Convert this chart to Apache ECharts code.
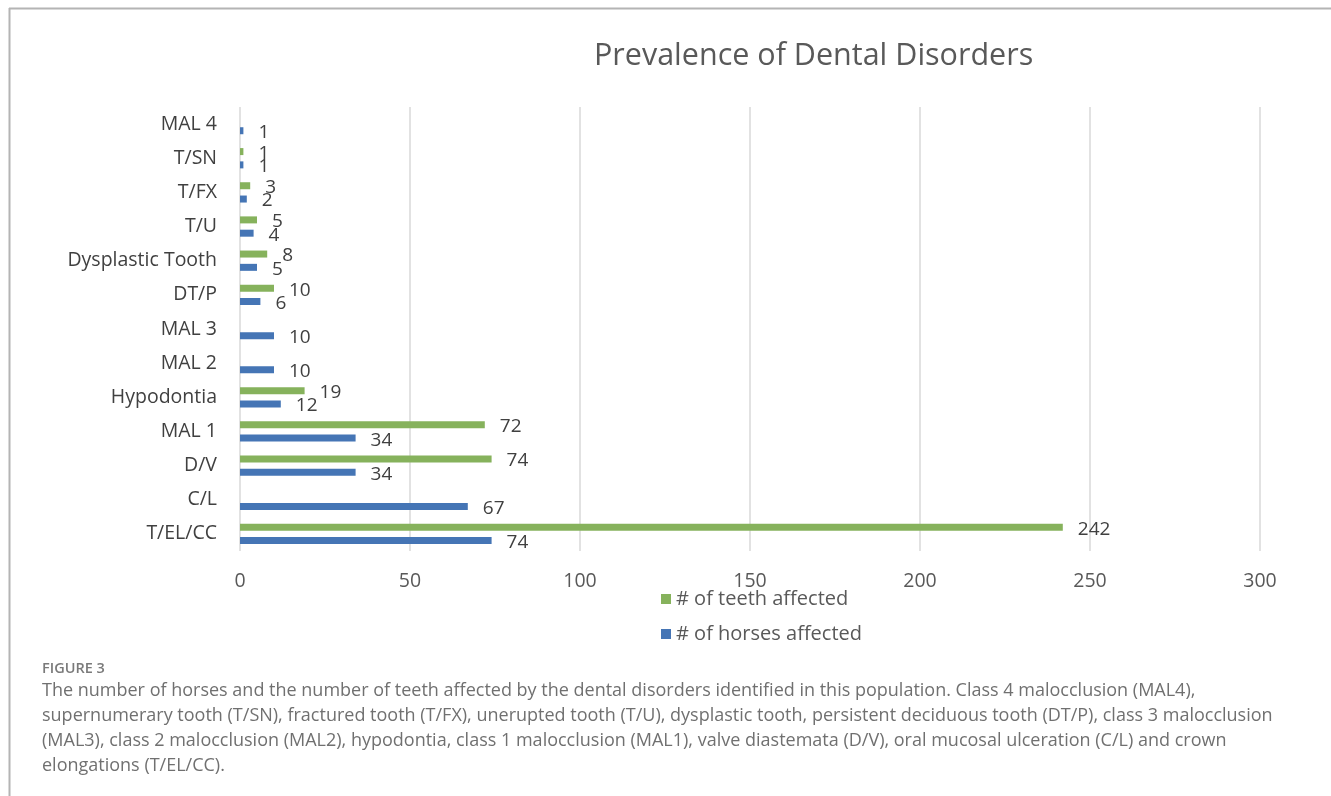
<!DOCTYPE html>
<html>
<head>
<meta charset="utf-8">
<title>Prevalence of Dental Disorders</title>
<script src="https://cdn.jsdelivr.net/npm/echarts@6/dist/echarts.min.js"></script>
<style>
  html, body { margin: 0; padding: 0; background: #ffffff; }
  #chart { width: 1331px; height: 796px; }
</style>
</head>
<body>
<div id="chart"></div>
<script>
// Disorder codes, listed bottom-to-top along the category axis
const categories = ['T/EL/CC', 'C/L', 'D/V', 'MAL 1', 'Hypodontia', 'MAL 2', 'MAL 3',
  'DT/P', 'Dysplastic Tooth', 'T/U', 'T/FX', 'T/SN', 'MAL 4'];
// Number of horses affected per disorder
const horsesAffected = [74, 67, 34, 34, 12, 10, 10, 6, 5, 4, 2, 1, 1];
// Number of teeth affected per disorder (no value where not recorded)
const teethAffected = [242, null, 74, 72, 19, null, null, 10, 8, 5, 3, 1, null];
// Value axis ticks
const xTicks = [0, 50, 100, 150, 200, 250, 300];

const seriesNames = ['# of teeth affected', '# of horses affected'];
const captionHead = 'FIGURE 3';
const captionLines = [
  'The number of horses and the number of teeth affected by the dental disorders identified in this population. Class 4 malocclusion (MAL4),',
  'supernumerary tooth (T/SN), fractured tooth (T/FX), unerupted tooth (T/U), dysplastic tooth, persistent deciduous tooth (DT/P), class 3 malocclusion',
  '(MAL3), class 2 malocclusion (MAL2), hypodontia, class 1 malocclusion (MAL1), valve diastemata (D/V), oral mucosal ulceration (C/L) and crown',
  'elongations (T/EL/CC).'
];

const FONT = '"Open Sans", sans-serif';
const chart = echarts.init(document.getElementById('chart'), null, { renderer: 'canvas' });

const labelStyle = {
  show: true,
  position: 'right',
  distance: 15,
  offset: [0, 2],
  color: '#404040',
  fontSize: 19,
  fontFamily: FONT
};

chart.setOption({
  animation: false,
  backgroundColor: '#ffffff',
  title: {
    text: 'Prevalence of Dental Disorders',
    left: 589,
    top: 36,
    textStyle: { color: '#595959', fontSize: 30.5, fontWeight: 'normal', fontFamily: FONT }
  },
  grid: { left: 240, top: 107, width: 1020, height: 444, containLabel: false },
  xAxis: {
    type: 'value',
    min: xTicks[0],
    max: xTicks[xTicks.length - 1],
    interval: xTicks[1] - xTicks[0],
    axisLine: { show: false },
    axisTick: { show: false },
    splitLine: { show: true, lineStyle: { color: '#d9d9d9', width: 1.5 } },
    axisLabel: { color: '#595959', fontSize: 19.5, fontFamily: FONT, margin: 20 }
  },
  yAxis: {
    type: 'category',
    data: categories,
    axisLine: { show: false },
    axisTick: { show: false },
    splitLine: { show: false },
    axisLabel: { color: '#404040', fontSize: 19.5, fontFamily: FONT, margin: 23, padding: [7, 0, 0, 0] }
  },
  legend: {
    orient: 'vertical',
    left: 656,
    top: 584,
    data: seriesNames,
    itemWidth: 10,
    itemHeight: 10,
    itemGap: 15,
    icon: 'rect',
    textStyle: { color: '#595959', fontSize: 20, fontFamily: FONT }
  },
  series: [
    {
      name: seriesNames[0],
      type: 'bar',
      data: teethAffected,
      barWidth: 7,
      barGap: '90%',
      itemStyle: { color: '#86b25c' },
      label: labelStyle
    },
    {
      name: seriesNames[1],
      type: 'bar',
      data: horsesAffected,
      barWidth: 7,
      barGap: '90%',
      itemStyle: { color: '#4575b5' },
      label: labelStyle
    }
  ],
  graphic: [
    // frame: top and left rules
    { type: 'line', shape: { x1: 9, y1: 8.5, x2: 1331, y2: 8.5 }, style: { stroke: '#b4b4b4', lineWidth: 2 } },
    { type: 'line', shape: { x1: 9.5, y1: 8, x2: 9.5, y2: 796 }, style: { stroke: '#b4b4b4', lineWidth: 2 } },
    {
      type: 'text', left: 42, top: 661,
      style: { text: captionHead, fill: '#7a7a7a', font: '600 14.5px ' + FONT }
    },
    {
      type: 'text', left: 42, top: 678,
      style: { text: captionLines.join('\n'), fill: '#707070', font: '18px ' + FONT, lineHeight: 25 }
    }
  ]
});
</script>
</body>
</html>
